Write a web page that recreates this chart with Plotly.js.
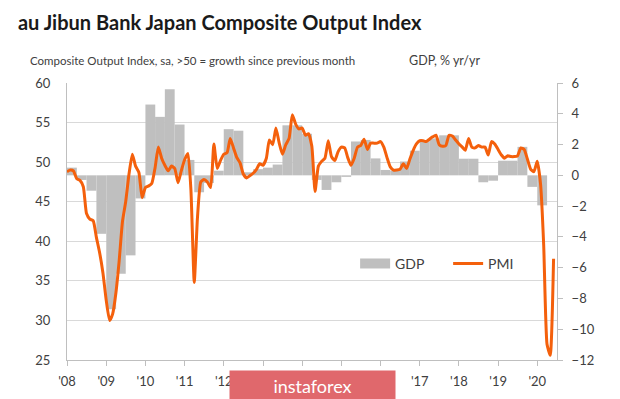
<!DOCTYPE html>
<html>
<head>
<meta charset="utf-8">
<script src="https://cdn.plot.ly/plotly-3.0.1.min.js"></script>
<style>
  html, body { margin: 0; padding: 0; background: #fff; }
  #chart { width: 620px; height: 399px; }
</style>
</head>
<body>
<div id="chart"></div>
<script>
// ---- data ----
const pmiStart = '2008-01';            // first month of the PMI series
const pmiValues = [
  // 2008
  48.8, 49.0, 48.9, 47.9, 47.7, 46.9, 43.5, 42.8, 42.6, 40.5, 38.5, 36.0,
  // 2009
  32.5, 30.0, 30.8, 33.5, 37.5, 42.5, 45.0, 48.5, 51.0, 49.5, 48.7, 45.5,
  // 2010
  46.8, 47.0, 47.3, 49.3, 51.9, 50.5, 49.6, 48.9, 49.5, 49.2, 47.4, 48.9,
  // 2011
  50.3, 51.1, 46.5, 34.8, 43.0, 47.5, 47.8, 47.5, 46.8, 52.3, 49.2, 50.2,
  // 2012
  51.0, 51.2, 53.0, 51.8, 50.6, 49.9, 48.5, 48.0, 48.3, 48.6, 49.1, 49.8,
  // 2013
  49.6, 50.5, 52.8, 52.2, 54.3, 52.4, 51.0, 52.2, 53.0, 56.0, 54.8, 54.2,
  // 2014
  54.3, 53.4, 53.6, 52.0, 46.3, 49.5, 50.1, 50.5, 52.7, 50.7, 50.2, 51.3,
  // 2015
  51.9, 51.8, 50.6, 49.6, 50.5, 51.9, 52.1, 52.9, 51.6, 52.4, 52.4, 52.4,
  // 2016
  52.6, 51.9, 50.6, 49.4, 49.0, 49.0, 49.1, 49.8, 49.2, 50.4, 51.5, 52.3,
  // 2017
  52.7, 52.7, 52.6, 52.9, 53.2, 53.4, 52.2, 52.0, 52.1, 53.4, 53.3, 52.8,
  // 2018
  52.3, 51.9, 51.5, 53.0, 51.9, 51.8, 52.1, 51.9, 51.9, 50.9, 52.6, 52.3,
  // 2019
  51.6, 50.9, 50.5, 50.8, 50.7, 50.7, 50.8, 51.8, 51.6, 50.4, 49.1, 48.8,
  // 2020
  50.1, 47.2, 39.5, 27.0, 25.6, 37.8
];

const gdpQuarters = [
  '2008Q1','2008Q2','2008Q3','2008Q4','2009Q1','2009Q2','2009Q3','2009Q4',
  '2010Q1','2010Q2','2010Q3','2010Q4','2011Q1','2011Q2','2011Q3','2011Q4',
  '2012Q1','2012Q2','2012Q3','2012Q4','2013Q1','2013Q2','2013Q3','2013Q4',
  '2014Q1','2014Q2','2014Q3','2014Q4','2015Q1','2015Q2','2015Q3','2015Q4',
  '2016Q1','2016Q2','2016Q3','2016Q4','2017Q1','2017Q2','2017Q3','2017Q4',
  '2018Q1','2018Q2','2018Q3','2018Q4','2019Q1','2019Q2','2019Q3','2019Q4',
  '2020Q1'
];
const gdpValues = [
  0.5, -0.3, -1.0, -3.8,
  -8.7, -6.4, -5.2, -1.5,
  4.6, 3.8, 5.6, 3.3,
  1.0, -1.1, -0.5, 0.3,
  3.0, 2.9, 0.2, 0.4,
  0.5, 0.7, 3.25, 3.25,
  2.7, -0.3, -0.95, -0.45,
  -0.1, 2.2, 2.3, 1.1,
  0.35, 0.3, 0.9, 1.6,
  2.2, 2.4, 2.6, 2.6,
  1.08, 1.08, -0.45, -0.35,
  0.95, 0.95, 1.85, -0.75,
  -1.95
];

const yearTicks = ['2008','2009','2010','2011','2012','2013','2014','2015','2016','2017','2018','2019','2020'];
// '13-'16 are hidden under the watermark in the reference
const yearLabels = ["'08","'09","'10","'11","'12","","","","","'17","'18","'19","'20"];

const pmiTicks = [25, 30, 35, 40, 45, 50, 55, 60];
const gdpTicks = [-12, -10, -8, -6, -4, -2, 0, 2, 4, 6];

// ---- derived x values (dates) ----
function monthDate(start, i) {
  const [y, m] = start.split('-').map(Number);
  const t = (m - 1) + i;
  const yy = y + Math.floor(t / 12);
  const mm = (t % 12) + 1;
  return yy + '-' + String(mm).padStart(2, '0') + '-01';
}
const pmiDates = pmiValues.map((_, i) => monthDate(pmiStart, i));
const gdpDates = gdpQuarters.map(q => {
  const y = q.slice(0, 4), n = Number(q.slice(5));
  return y + '-' + String((n - 1) * 3 + 1).padStart(2, '0') + '-01';
});

const DAY = 86400000;
const TXT = '#404040';
const FONT = 'Lato, "Open Sans", sans-serif';

const traces = [
  {
    type: 'bar',
    name: 'GDP',
    x: gdpDates,
    y: gdpValues,
    yaxis: 'y',
    offset: 0,
    width: gdpDates.map(() => 91.5 * DAY),
    marker: { color: '#bfbfbf', line: { width: 0 } },
    showlegend: false,
    hoverinfo: 'x+y'
  },
  {
    type: 'scatter',
    mode: 'lines',
    name: 'GDP',
    x: [null],
    y: [null],
    yaxis: 'y',
    line: { color: '#bfbfbf', width: 12 },
    hoverinfo: 'skip'
  },
  {
    type: 'scatter',
    mode: 'lines',
    name: 'PMI',
    x: pmiDates,
    y: pmiValues,
    yaxis: 'y2',
    line: { color: '#f4600c', width: 3, shape: 'spline', smoothing: 0.5 }
  }
];

const layout = {
  width: 620,
  height: 399,
  margin: { l: 67, r: 63, t: 83, b: 39, pad: 0 },
  paper_bgcolor: '#ffffff',
  plot_bgcolor: 'rgba(0,0,0,0)',
  font: { family: FONT, size: 13, color: TXT },
  showlegend: true,
  title: {
    text: 'au Jibun Bank Japan Composite Output Index',
    font: { family: FONT, size: 20, weight: 'bold', color: '#1a1a1a' },
    xref: 'container', yref: 'container',
    x: 0.029, xanchor: 'left',
    y: 0.943, yanchor: 'middle'
  },
  xaxis: {
    type: 'date',
    range: ['2008-01-01', '2020-07-03'],
    tickmode: 'array',
    tickvals: yearTicks.map(y => y + '-01-01'),
    ticktext: yearLabels,
    ticks: 'outside', ticklen: 5, tickcolor: '#bfbfbf', tickwidth: 1,
    showline: true, linecolor: '#bfbfbf', linewidth: 1,
    showgrid: false, zeroline: false,
    tickfont: { family: FONT, size: 13, color: TXT },
    ticklabelstandoff: 4
  },
  yaxis: {
    range: [-12, 6],
    side: 'right',
    tickmode: 'array', tickvals: gdpTicks,
    ticks: 'outside', ticklen: 5, tickcolor: '#bfbfbf',
    showline: true, linecolor: '#bfbfbf', linewidth: 1,
    showgrid: false, zeroline: false,
    tickfont: { family: FONT, size: 13, color: TXT },
    ticklabelstandoff: 6
  },
  yaxis2: {
    range: [25, 60],
    overlaying: 'y',
    side: 'left',
    tickmode: 'array', tickvals: pmiTicks,
    ticks: '',
    showline: true, linecolor: '#bfbfbf', linewidth: 1,
    showgrid: true, gridcolor: '#d9d9d9', gridwidth: 1,
    zeroline: false,
    tickfont: { family: FONT, size: 13, color: TXT },
    ticklabelstandoff: 13
  },
  legend: {
    orientation: 'h',
    x: 0.588, xanchor: 'left',
    y: 0.347, yanchor: 'middle',
    bgcolor: 'rgba(0,0,0,0)',
    font: { family: FONT, size: 14, color: TXT },
    entrywidthmode: 'pixels', entrywidth: 48,
    traceorder: 'normal'
  },
  annotations: [
    {
      text: 'Composite Output Index, sa, >50 = growth since previous month',
      xref: 'paper', yref: 'paper', x: -0.0796, y: 1.083,
      xanchor: 'left', yanchor: 'middle', showarrow: false,
      font: { family: FONT, size: 11.5, color: TXT }
    },
    {
      text: 'GDP, % yr/yr',
      xref: 'paper', yref: 'paper', x: 0.847, y: 1.083,
      xanchor: 'right', yanchor: 'middle', showarrow: false,
      font: { family: FONT, size: 12.5, color: TXT }
    },
    {
      text: 'instaforex',
      xref: 'paper', yref: 'paper', x: 0.331, y: -0.035,
      xanchor: 'left', yanchor: 'top', showarrow: false,
      width: 161, height: 25, borderpad: 2,
      bgcolor: '#e0686c',
      font: { family: FONT, size: 18, color: '#ffffff' }
    }
  ]
};

Plotly.newPlot('chart', traces, layout, { displayModeBar: false, staticPlot: true });
</script>
</body>
</html>
